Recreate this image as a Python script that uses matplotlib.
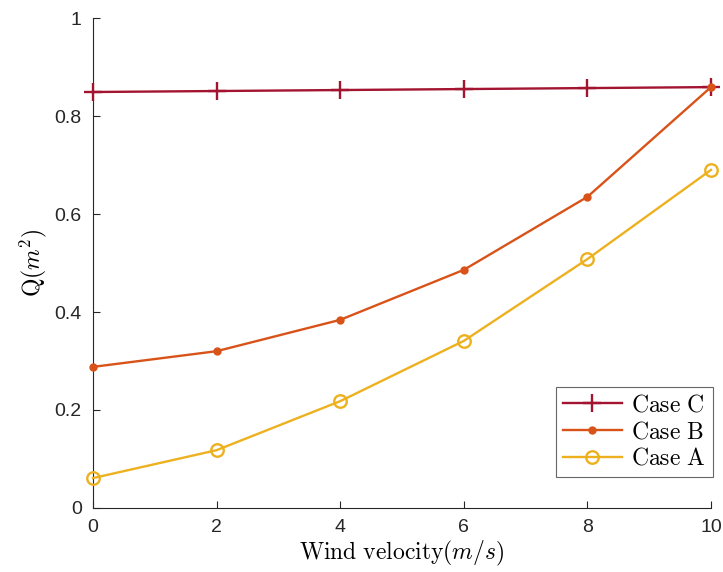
import numpy as np
import matplotlib
matplotlib.use("Agg")
import matplotlib.pyplot as plt

plt.rcParams['mathtext.fontset'] = 'cm'
plt.rcParams['font.family'] = ['Liberation Sans', 'DejaVu Sans']

wind = [0, 2, 4, 6, 8, 10]
case_c = [0.849, 0.851, 0.853, 0.855, 0.857, 0.859]
case_b = [0.288, 0.320, 0.384, 0.486, 0.635, 0.859]
case_a = [0.061, 0.118, 0.218, 0.341, 0.508, 0.690]

fig = plt.figure(figsize=(7.23, 5.72), dpi=100)
ax = fig.add_axes([0.1286, 0.1119, 0.8548, 0.8566])

ax.plot(wind, case_c, color='#A2142F', lw=1.7, marker='+', ms=13, mew=1.7,
        label=r'$\mathrm{Case\ C}$', clip_on=False, zorder=3)
ax.plot(wind, case_b, color='#D95319', lw=1.7, marker='.', ms=10,
        label=r'$\mathrm{Case\ B}$', clip_on=False, zorder=3)
ax.plot(wind, case_a, color='#EDB120', lw=1.7, marker='o', ms=9, mew=1.7,
        mfc='none', label=r'$\mathrm{Case\ A}$', clip_on=False, zorder=3)

ax.set_xlim(0, 10)
ax.set_ylim(0, 1)
ax.set_xticks([0, 2, 4, 6, 8, 10])
ax.set_yticks([0, 0.2, 0.4, 0.6, 0.8, 1])
ax.set_yticklabels(['0', '0.2', '0.4', '0.6', '0.8', '1'])
ax.tick_params(direction='in', length=5, width=0.8, labelsize=14,
               colors='#262626', pad=8)
for s in ['top', 'right']:
    ax.spines[s].set_visible(False)
for s in ['left', 'bottom']:
    ax.spines[s].set_color('#262626')
    ax.spines[s].set_linewidth(0.8)

ax.set_xlabel(r'$\mathrm{Wind\ velocity}(m/s)$', fontsize=17, labelpad=2)
ax.set_ylabel(r'$\mathrm{Q}(m^2)$', fontsize=17, labelpad=4)

# legend box sits in the lower right corner, reaching just past the axes edge
leg = ax.legend(loc='lower right', bbox_to_anchor=(713 / 723, 95 / 572),
                bbox_transform=fig.transFigure, fontsize=17, fancybox=False,
                edgecolor='#404040', handlelength=2.5, borderpad=0.3,
                labelspacing=0.2, handletextpad=0.4, borderaxespad=0)
leg.get_frame().set_linewidth(0.8)

fig.savefig('out.png', dpi=100)
